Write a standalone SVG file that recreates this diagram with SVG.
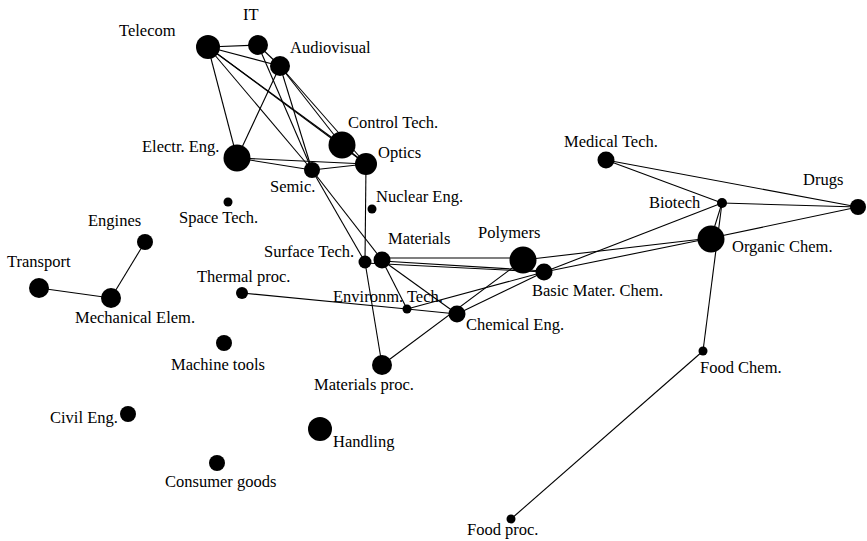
<svg xmlns="http://www.w3.org/2000/svg" width="867" height="541" viewBox="0 0 867 541">
<style>
.e{stroke:#000;stroke-width:1.1;fill:none}
circle{fill:#000}
text{font-family:"Liberation Serif","Times New Roman","DejaVu Serif",serif;font-size:16.5px;fill:#000}
</style>
<rect width="867" height="541" fill="#fff"/>
<g id="connectors" class="e">
<line x1="208" y1="47" x2="258" y2="45"/>
<line x1="208" y1="47" x2="280" y2="66"/>
<line x1="208" y1="47" x2="237" y2="158"/>
<line x1="208" y1="47" x2="312" y2="170"/>
<line x1="208" y1="47" x2="342" y2="145"/>
<line x1="208" y1="47" x2="366" y2="164"/>
<line x1="258" y1="45" x2="280" y2="66"/>
<line x1="258" y1="45" x2="312" y2="170"/>
<line x1="280" y1="66" x2="237" y2="158"/>
<line x1="280" y1="66" x2="312" y2="170"/>
<line x1="280" y1="66" x2="342" y2="145"/>
<line x1="280" y1="66" x2="366" y2="164"/>
<line x1="237" y1="158" x2="366" y2="164"/>
<line x1="237" y1="158" x2="312" y2="170"/>
<line x1="312" y1="170" x2="366" y2="164"/>
<line x1="342" y1="145" x2="366" y2="164"/>
<line x1="366" y1="164" x2="365" y2="262"/>
<line x1="312" y1="170" x2="365" y2="262"/>
<line x1="312" y1="170" x2="382" y2="260"/>
<line x1="365" y1="262" x2="382" y2="365"/>
<line x1="382" y1="258" x2="523" y2="258"/>
<line x1="365" y1="263" x2="544" y2="272"/>
<line x1="382" y1="261" x2="544" y2="271"/>
<line x1="382" y1="260" x2="457" y2="314"/>
<line x1="382" y1="260" x2="407" y2="309"/>
<line x1="242" y1="293" x2="407" y2="309"/>
<line x1="407" y1="309" x2="457" y2="314"/>
<line x1="407" y1="309" x2="544" y2="272"/>
<line x1="457" y1="314" x2="544" y2="272"/>
<line x1="382" y1="365" x2="523" y2="260"/>
<line x1="523" y1="260" x2="711" y2="238"/>
<line x1="544" y1="272" x2="711" y2="238"/>
<line x1="544" y1="272" x2="722" y2="203"/>
<line x1="722" y1="203" x2="711" y2="238"/>
<line x1="722" y1="203" x2="703" y2="351"/>
<line x1="703" y1="351" x2="511" y2="519"/>
<line x1="606" y1="160" x2="722" y2="203"/>
<line x1="606" y1="160" x2="858" y2="207"/>
<line x1="722" y1="203" x2="858" y2="207"/>
<line x1="711" y1="238" x2="858" y2="207"/>
<line x1="145" y1="242" x2="111" y2="298"/>
<line x1="39" y1="288" x2="111" y2="298"/>
</g>
<g id="telecom"><circle cx="208" cy="47" r="12"/><text x="119" y="36">Telecom</text></g>
<g id="it"><circle cx="258" cy="45" r="10"/><text x="243" y="20">IT</text></g>
<g id="audiovisual"><circle cx="280" cy="66" r="10"/><text x="290" y="53">Audiovisual</text></g>
<g id="control-tech"><circle cx="342" cy="145" r="13.5"/><text x="348" y="128">Control Tech.</text></g>
<g id="optics"><circle cx="366" cy="164" r="11"/><text x="378" y="158">Optics</text></g>
<g id="electr-eng"><circle cx="237" cy="158" r="13.5"/><text x="142" y="152">Electr. Eng.</text></g>
<g id="semic"><circle cx="312" cy="170" r="8"/><text x="270" y="192">Semic.</text></g>
<g id="nuclear-eng"><circle cx="372" cy="209" r="4.5"/><text x="376" y="202">Nuclear Eng.</text></g>
<g id="space-tech"><circle cx="228" cy="202" r="4.5"/><text x="179" y="223">Space Tech.</text></g>
<g id="engines"><circle cx="145" cy="242" r="8"/><text x="88" y="226">Engines</text></g>
<g id="transport"><circle cx="39" cy="288" r="10"/><text x="7" y="267">Transport</text></g>
<g id="mechanical-elem"><circle cx="111" cy="298" r="10"/><text x="75" y="323">Mechanical Elem.</text></g>
<g id="thermal-proc"><circle cx="242" cy="293" r="6"/><text x="197" y="282">Thermal proc.</text></g>
<g id="machine-tools"><circle cx="224" cy="343" r="8"/><text x="171" y="370">Machine tools</text></g>
<g id="surface-tech"><circle cx="365" cy="262" r="6.5"/><text x="264" y="257">Surface Tech.</text></g>
<g id="materials"><circle cx="382" cy="260" r="8.5"/><text x="388" y="244">Materials</text></g>
<g id="polymers"><circle cx="523" cy="260" r="13.5"/><text x="478" y="238">Polymers</text></g>
<g id="environm-tech"><circle cx="407" cy="309" r="4.5"/><text x="333" y="302">Environm. Tech.</text></g>
<g id="chemical-eng"><circle cx="457" cy="314" r="8.5"/><text x="466" y="330">Chemical Eng.</text></g>
<g id="basic-mater-chem"><circle cx="544" cy="272" r="8.5"/><text x="532" y="296">Basic Mater. Chem.</text></g>
<g id="materials-proc"><circle cx="382" cy="365" r="10"/><text x="314" y="390">Materials proc.</text></g>
<g id="handling"><circle cx="320" cy="429" r="12"/><text x="333" y="447">Handling</text></g>
<g id="civil-eng"><circle cx="128" cy="414" r="8"/><text x="50" y="423">Civil Eng.</text></g>
<g id="consumer-goods"><circle cx="217" cy="463" r="8"/><text x="165" y="487">Consumer goods</text></g>
<g id="food-proc"><circle cx="511" cy="519" r="4.5"/><text x="467" y="535">Food proc.</text></g>
<g id="food-chem"><circle cx="703" cy="351" r="4.5"/><text x="700" y="373">Food Chem.</text></g>
<g id="medical-tech"><circle cx="606" cy="160" r="8.5"/><text x="564" y="147">Medical Tech.</text></g>
<g id="drugs"><circle cx="858" cy="207" r="8"/><text x="803" y="185">Drugs</text></g>
<g id="biotech"><circle cx="722" cy="203" r="5"/><text x="649" y="208">Biotech</text></g>
<g id="organic-chem"><circle cx="711" cy="239" r="13.5"/><text x="732" y="252">Organic Chem.</text></g>
</svg>
